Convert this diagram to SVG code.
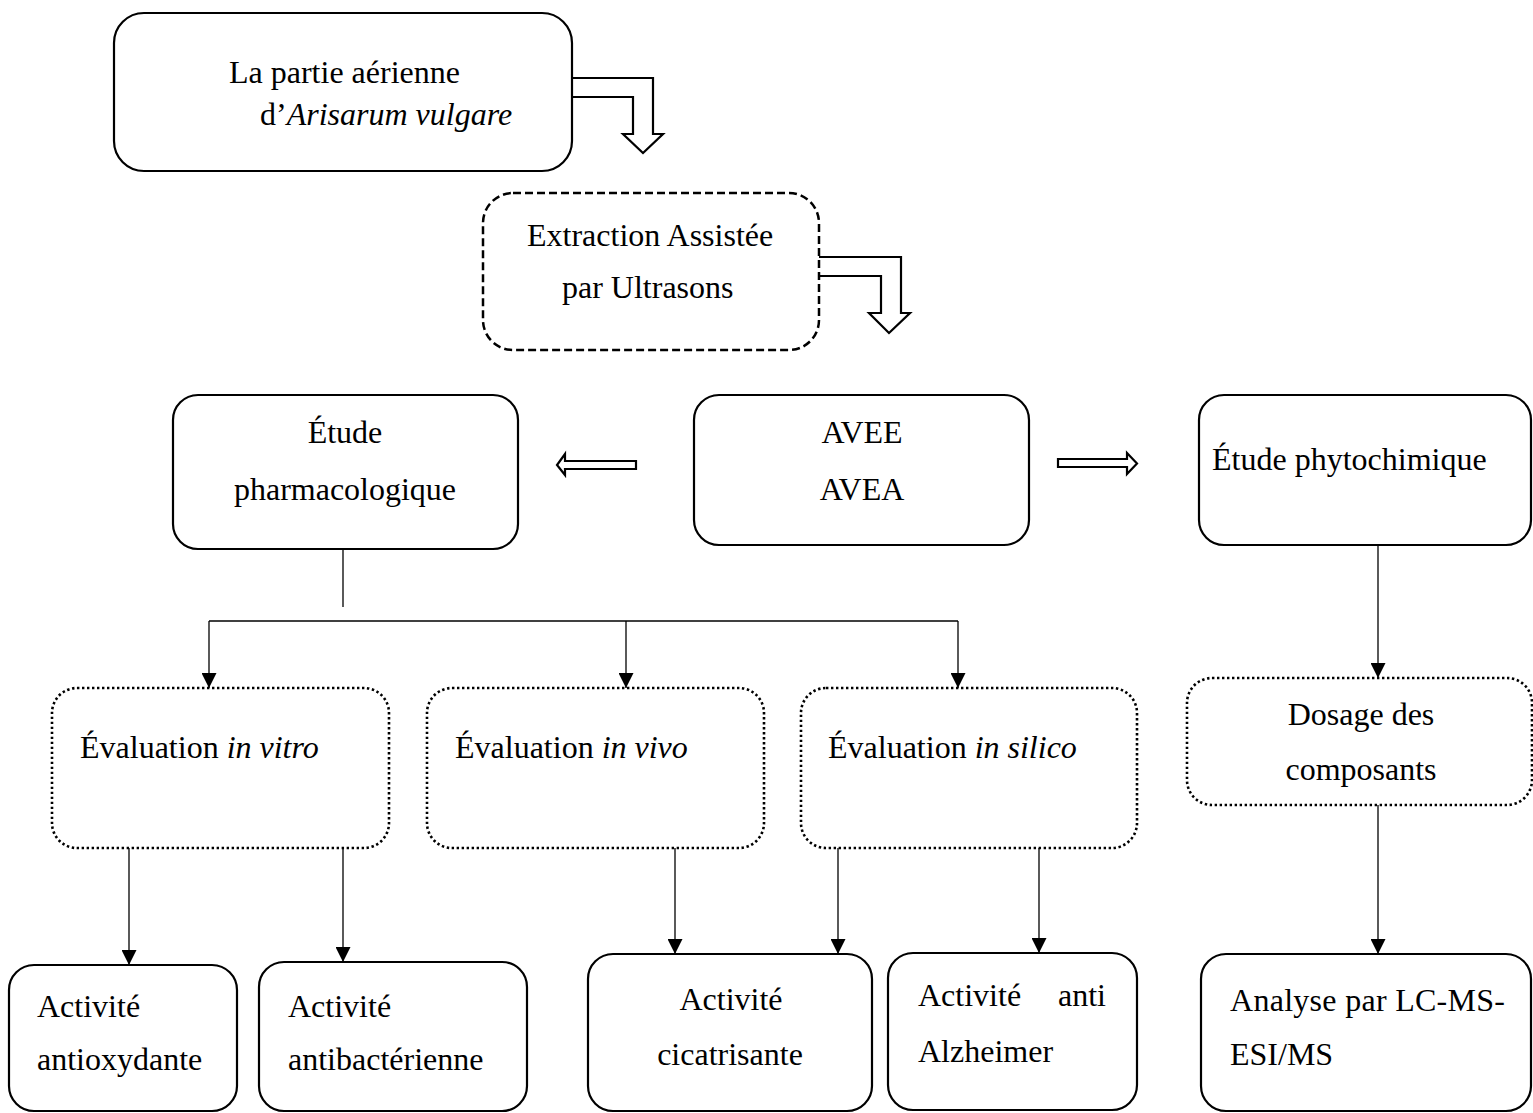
<svg xmlns="http://www.w3.org/2000/svg" width="1533" height="1113" viewBox="0 0 1533 1113">
<style>
.box{fill:#fff;stroke:#000;stroke-width:2.2}
.dash{fill:#fff;stroke:#000;stroke-width:2.5;stroke-dasharray:8 4}
.dot{fill:#fff;stroke:#000;stroke-width:2.6;stroke-dasharray:2.4 2.6}
.blk{fill:#fff;stroke:#000;stroke-width:2.2;stroke-linejoin:miter}
.ln{fill:none;stroke:#000;stroke-width:1.3}
text{font-family:"Liberation Serif","Times New Roman",serif;font-size:32px;fill:#000}
.m{text-anchor:middle}
</style>
<defs>
<marker id="ah" markerWidth="15" markerHeight="15" refX="15" refY="7.5" orient="auto" markerUnits="userSpaceOnUse">
<path d="M0,0 L15,7.5 L0,15 Z" fill="#000"/>
</marker>
</defs>
<rect width="1533" height="1113" fill="#fff"/>

<g id="connectors">
<path class="blk" d="M572,78 H653 V134 H663 L643,153 L623,134 H633 V97 H572"/>
<path class="blk" d="M819,257 H901 V313 H910 L889,333 L869,313 H881 V276 H819"/>
<path class="blk" d="M636,461 H565 V454 L557,465 L565,475 V469 H636 Z"/>
<path class="blk" d="M1058,459 H1127 V453 L1137,463.5 L1127,474 V467 H1058 Z"/>
<line class="ln" x1="343" y1="549" x2="343" y2="607"/>
<line class="ln" x1="209" y1="621" x2="958" y2="621" stroke="#333"/>
<line class="ln" x1="209" y1="621" x2="209" y2="688" marker-end="url(#ah)"/>
<line class="ln" x1="626" y1="621" x2="626" y2="688" marker-end="url(#ah)"/>
<line class="ln" x1="958" y1="621" x2="958" y2="688" marker-end="url(#ah)"/>
<line class="ln" x1="1378" y1="545" x2="1378" y2="678" marker-end="url(#ah)"/>
<line class="ln" x1="129" y1="848" x2="129" y2="965" marker-end="url(#ah)"/>
<line class="ln" x1="343" y1="848" x2="343" y2="962" marker-end="url(#ah)"/>
<line class="ln" x1="675" y1="848" x2="675" y2="954" marker-end="url(#ah)"/>
<line class="ln" x1="838" y1="848" x2="838" y2="954" marker-end="url(#ah)"/>
<line class="ln" x1="1039" y1="848" x2="1039" y2="953" marker-end="url(#ah)"/>
<line class="ln" x1="1378" y1="805" x2="1378" y2="954" marker-end="url(#ah)"/>
</g>

<g id="n-plante">
<rect class="box" x="114" y="13" width="458" height="158" rx="30"/>
<text x="229" y="83">La partie aérienne</text>
<text x="260" y="125">d’<tspan font-style="italic">Arisarum vulgare</tspan></text>
</g>

<g id="n-extraction">
<rect class="dash" x="483" y="193" width="336" height="157" rx="30"/>
<text x="527" y="246">Extraction Assistée</text>
<text x="562" y="298">par Ultrasons</text>
</g>

<g id="n-pharma">
<rect class="box" x="173" y="395" width="345" height="154" rx="25"/>
<text class="m" x="345" y="443">Étude</text>
<text class="m" x="345" y="500">pharmacologique</text>
</g>

<g id="n-extraits">
<rect class="box" x="694" y="395" width="335" height="150" rx="25"/>
<text class="m" x="862" y="443">AVEE</text>
<text class="m" x="862" y="500">AVEA</text>
</g>

<g id="n-phyto">
<rect class="box" x="1199" y="395" width="332" height="150" rx="25"/>
<text x="1212" y="470">Étude phytochimique</text>
</g>

<g id="n-invitro">
<rect class="dot" x="52" y="688" width="337" height="160" rx="25"/>
<text x="80" y="758">Évaluation <tspan font-style="italic">in vitro</tspan></text>
</g>

<g id="n-invivo">
<rect class="dot" x="427" y="688" width="337" height="160" rx="25"/>
<text x="455" y="758">Évaluation <tspan font-style="italic">in vivo</tspan></text>
</g>

<g id="n-insilico">
<rect class="dot" x="801" y="688" width="336" height="160" rx="25"/>
<text x="828" y="758">Évaluation <tspan font-style="italic">in silico</tspan></text>
</g>

<g id="n-dosage">
<rect class="dot" x="1187" y="678" width="345" height="127" rx="25"/>
<text class="m" x="1361" y="725">Dosage des</text>
<text class="m" x="1361" y="780">composants</text>
</g>

<g id="n-antiox">
<rect class="box" x="9" y="965" width="228" height="146" rx="25"/>
<text x="37" y="1017">Activité</text>
<text x="37" y="1070">antioxydante</text>
</g>

<g id="n-antibac">
<rect class="box" x="259" y="962" width="268" height="149" rx="25"/>
<text x="288" y="1017">Activité</text>
<text x="288" y="1070">antibactérienne</text>
</g>

<g id="n-cicat">
<rect class="box" x="588" y="954" width="284" height="157" rx="25"/>
<text class="m" x="731" y="1010">Activité</text>
<text class="m" x="730" y="1065">cicatrisante</text>
</g>

<g id="n-alz">
<rect class="box" x="888" y="953" width="249" height="157" rx="25"/>
<text x="918" y="1006">Activité</text>
<text x="1106" y="1006" text-anchor="end">anti</text>
<text x="918" y="1062">Alzheimer</text>
</g>

<g id="n-lcms">
<rect class="box" x="1201" y="954" width="330" height="157" rx="25"/>
<text x="1230" y="1011" textLength="275" lengthAdjust="spacing">Analyse par LC-MS-</text>
<text x="1230" y="1065">ESI/MS</text>
</g>
</svg>
